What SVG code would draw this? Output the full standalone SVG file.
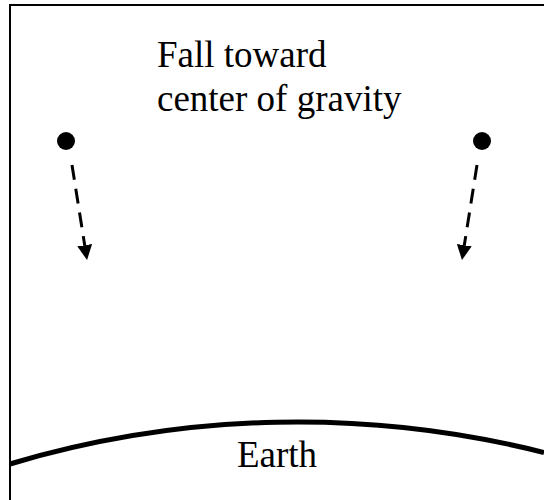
<svg xmlns="http://www.w3.org/2000/svg" width="544" height="500" viewBox="0 0 544 500">
<style>
.txt{font-family:"Liberation Serif","Times New Roman",serif;font-size:37px;fill:#000}
.fall{stroke:#000;stroke-width:3;stroke-dasharray:15 9;fill:none}
</style>
<defs>
<marker id="ah" markerUnits="userSpaceOnUse" viewBox="0 0 15 15" refX="0" refY="7.5" markerWidth="15" markerHeight="15" orient="auto">
<path d="M0 0 L15 7.5 L0 15 z" fill="#000"/>
</marker>
</defs>
<rect x="0" y="0" width="544" height="500" fill="#fff"/>
<g id="frame">
<path d="M10 500 L10 5 L544 5" fill="none" stroke="#000" stroke-width="2"/>
</g>
<g id="earth">
<path d="M10 464 A1008 1008 0 0 1 544 452.5" fill="none" stroke="#000" stroke-width="5"/>
<text class="txt" x="277" y="467" text-anchor="middle">Earth</text>
</g>
<g id="label">
<text class="txt" x="157" y="67">Fall toward</text>
<text class="txt" x="157" y="111">center of gravity</text>
</g>
<g id="left-object">
<circle cx="66" cy="141" r="9" fill="#000"/>
</g>
<g id="right-object">
<circle cx="482" cy="141" r="9" fill="#000"/>
</g>
<g id="connectors">
<line class="fall" x1="72" y1="165" x2="84.7" y2="245.2" marker-end="url(#ah)"/>
<line class="fall" x1="477" y1="165" x2="464.3" y2="245.2" marker-end="url(#ah)"/>
</g>
</svg>
